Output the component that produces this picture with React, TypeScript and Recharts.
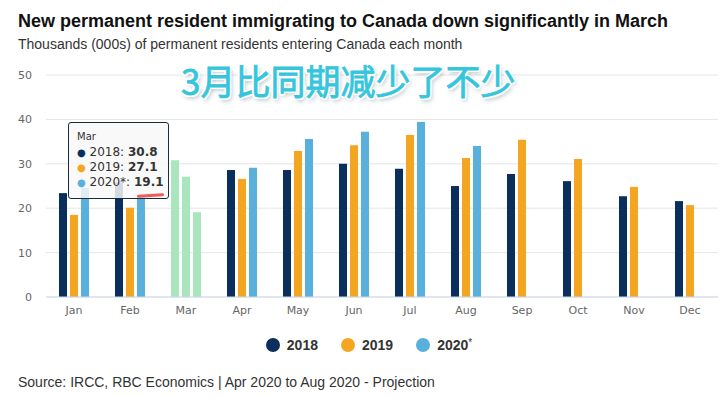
import { BarChart, Bar, XAxis, YAxis, CartesianGrid, Tooltip, Cell } from 'recharts';

const months = ['Jan', 'Feb', 'Mar', 'Apr', 'May', 'Jun', 'Jul', 'Aug', 'Sep', 'Oct', 'Nov', 'Dec'];
const y2018 = [23.4, 25.8, 30.8, 28.6, 28.6, 30.0, 28.9, 25.0, 27.7, 26.1, 22.7, 21.6];
const y2019 = [18.5, 20.1, 27.1, 26.6, 32.9, 34.2, 36.5, 31.3, 35.4, 31.1, 24.8, 20.7];
const y2020 = [24.6, 23.0, 19.1, 29.1, 35.6, 37.2, 39.4, 34.0, null, null, null, null];
const yTicks = [0, 10, 20, 30, 40, 50];

const series = [
    { key: 'y2018', name: '2018', color: '#0b2f5c' },
    { key: 'y2019', name: '2019', color: '#f4a623' },
    { key: 'y2020', name: '2020*', color: '#5ab0dc' },
];
const hoverIndex = 2;
const hoverColor = '#a9e5bd';

const data = months.map((m, i) => ({ month: m, y2018: y2018[i], y2019: y2019[i], y2020: y2020[i] }));

const font = '"Liberation Sans", Arial, sans-serif';
const tickFont = '"DejaVu Sans", Verdana, sans-serif';

function TipBox({ active, payload, label }: any) {
    if (!active || !payload || !payload.length) return null;
    return (
        <div
            style={{
                width: 101,
                height: 77,
                boxSizing: 'border-box',
                background: 'rgba(248,248,248,0.85)',
                border: '1px solid #1c2b3c',
                borderRadius: 3,
                padding: '8px 0 0 8px',
                fontFamily: tickFont,
                color: '#333',
                position: 'relative',
            }}
        >
            <div style={{ fontSize: 10, lineHeight: '12px', marginBottom: 2 }}>{label}</div>
            {payload.map((p: any) => {
                const s = series.find((x) => x.key === p.dataKey)!;
                return (
                    <div key={p.dataKey} style={{ fontSize: 12, lineHeight: '15px', whiteSpace: 'nowrap' }}>
                        <span style={{ color: s.color, fontSize: 10 }}>●</span> {s.name}: <b>{p.value}</b>
                    </div>
                );
            })}
            <div
                style={{
                    position: 'absolute',
                    left: 68,
                    top: 71,
                    width: 27,
                    height: 3,
                    borderRadius: 2,
                    background: '#ef5a5a',
                    transform: 'rotate(-4deg)',
                }}
            />
        </div>
    );
}

export default function App() {
    return (
        <div style={{ position: 'absolute', left: 0, top: 0, width: 722, height: 397, background: '#fff', fontFamily: font, overflow: 'hidden' }}>
            <div style={{ position: 'absolute', left: 18, top: 11, fontSize: 18, fontWeight: 'bold', color: '#111', whiteSpace: 'nowrap' }}>
                New permanent resident immigrating to Canada down significantly in March
            </div>
            <div style={{ position: 'absolute', left: 18, top: 36, fontSize: 14, color: '#333', whiteSpace: 'nowrap' }}>
                Thousands (000s) of permanent residents entering Canada each month
            </div>

            <div style={{ position: 'absolute', left: 0, top: 0 }}>
                <BarChart
                    width={722}
                    height={330}
                    data={data}
                    margin={{ top: 75, right: 4, left: 0, bottom: 3 }}
                    barSize={8}
                    barGap={3}
                >
                    <CartesianGrid vertical={false} stroke="#e6e6e6" />
                    <XAxis
                        dataKey="month"
                        height={30}
                        tickLine={false}
                        tickSize={0}
                        tickMargin={9}
                        axisLine={{ stroke: '#ccd6eb' }}
                        tick={{ fontSize: 11, fill: '#666', fontFamily: tickFont }}
                    />
                    <YAxis
                        width={46}
                        domain={[0, 50]}
                        ticks={yTicks}
                        tickLine={false}
                        axisLine={false}
                        tickSize={0}
                        tickMargin={14}
                        tick={{ fontSize: 11, fill: '#666', fontFamily: tickFont }}
                    />
                    <Tooltip
                        defaultIndex={hoverIndex}
                        cursor={false}
                        content={<TipBox />}
                        position={{ x: 68, y: 122 }}
                        isAnimationActive={false}
                        wrapperStyle={{ zIndex: 5 }}
                    />
                    {series.map((s) => (
                        <Bar key={s.key} dataKey={s.key} name={s.name} fill={s.color} isAnimationActive={false} activeBar={false}>
                            {data.map((_, i) => (
                                <Cell key={`cell-${i}`} fill={i === hoverIndex ? hoverColor : s.color} />
                            ))}
                        </Bar>
                    ))}
                </BarChart>
            </div>

            <div
                style={{
                    position: 'absolute',
                    left: 181,
                    top: 55,
                    fontSize: 35,
                    lineHeight: '50px',
                    fontFamily: '"Noto Sans CJK SC", sans-serif',
                    color: '#35c5dc',
                    WebkitTextStroke: '0.8px #35c5dc',
                    textShadow:
                        '2px 0 0 #fff, -2px 0 0 #fff, 0 2px 0 #fff, 0 -2px 0 #fff, 1.5px 1.5px 0 #fff, -1.5px -1.5px 0 #fff, 1.5px -1.5px 0 #fff, -1.5px 1.5px 0 #fff, 2px 3px 4px rgba(40,80,100,0.45)',
                    whiteSpace: 'nowrap',
                    zIndex: 10,
                }}
            >
                3月比同期减少了不少
            </div>

            <div style={{ position: 'absolute', left: 8, top: 337, width: 722, display: 'flex', justifyContent: 'center', gap: 23, fontSize: 14, fontWeight: 'bold', color: '#333' }}>
                {series.map((s) => (
                    <div key={s.key} style={{ display: 'flex', alignItems: 'center' }}>
                        <span style={{ display: 'inline-block', width: 14, height: 14, borderRadius: '50%', background: s.color, marginRight: 7 }} />
                        {s.name === '2020*' ? (
                            <span>
                                2020<span style={{ fontWeight: 'normal', fontSize: 10, verticalAlign: 'top' }}>*</span>
                            </span>
                        ) : (
                            s.name
                        )}
                    </div>
                ))}
            </div>

            <div style={{ position: 'absolute', left: 18, top: 374, fontSize: 14, color: '#333', whiteSpace: 'nowrap' }}>
                Source: IRCC, RBC Economics | Apr 2020 to Aug 2020 - Projection
            </div>
        </div>
    );
}
